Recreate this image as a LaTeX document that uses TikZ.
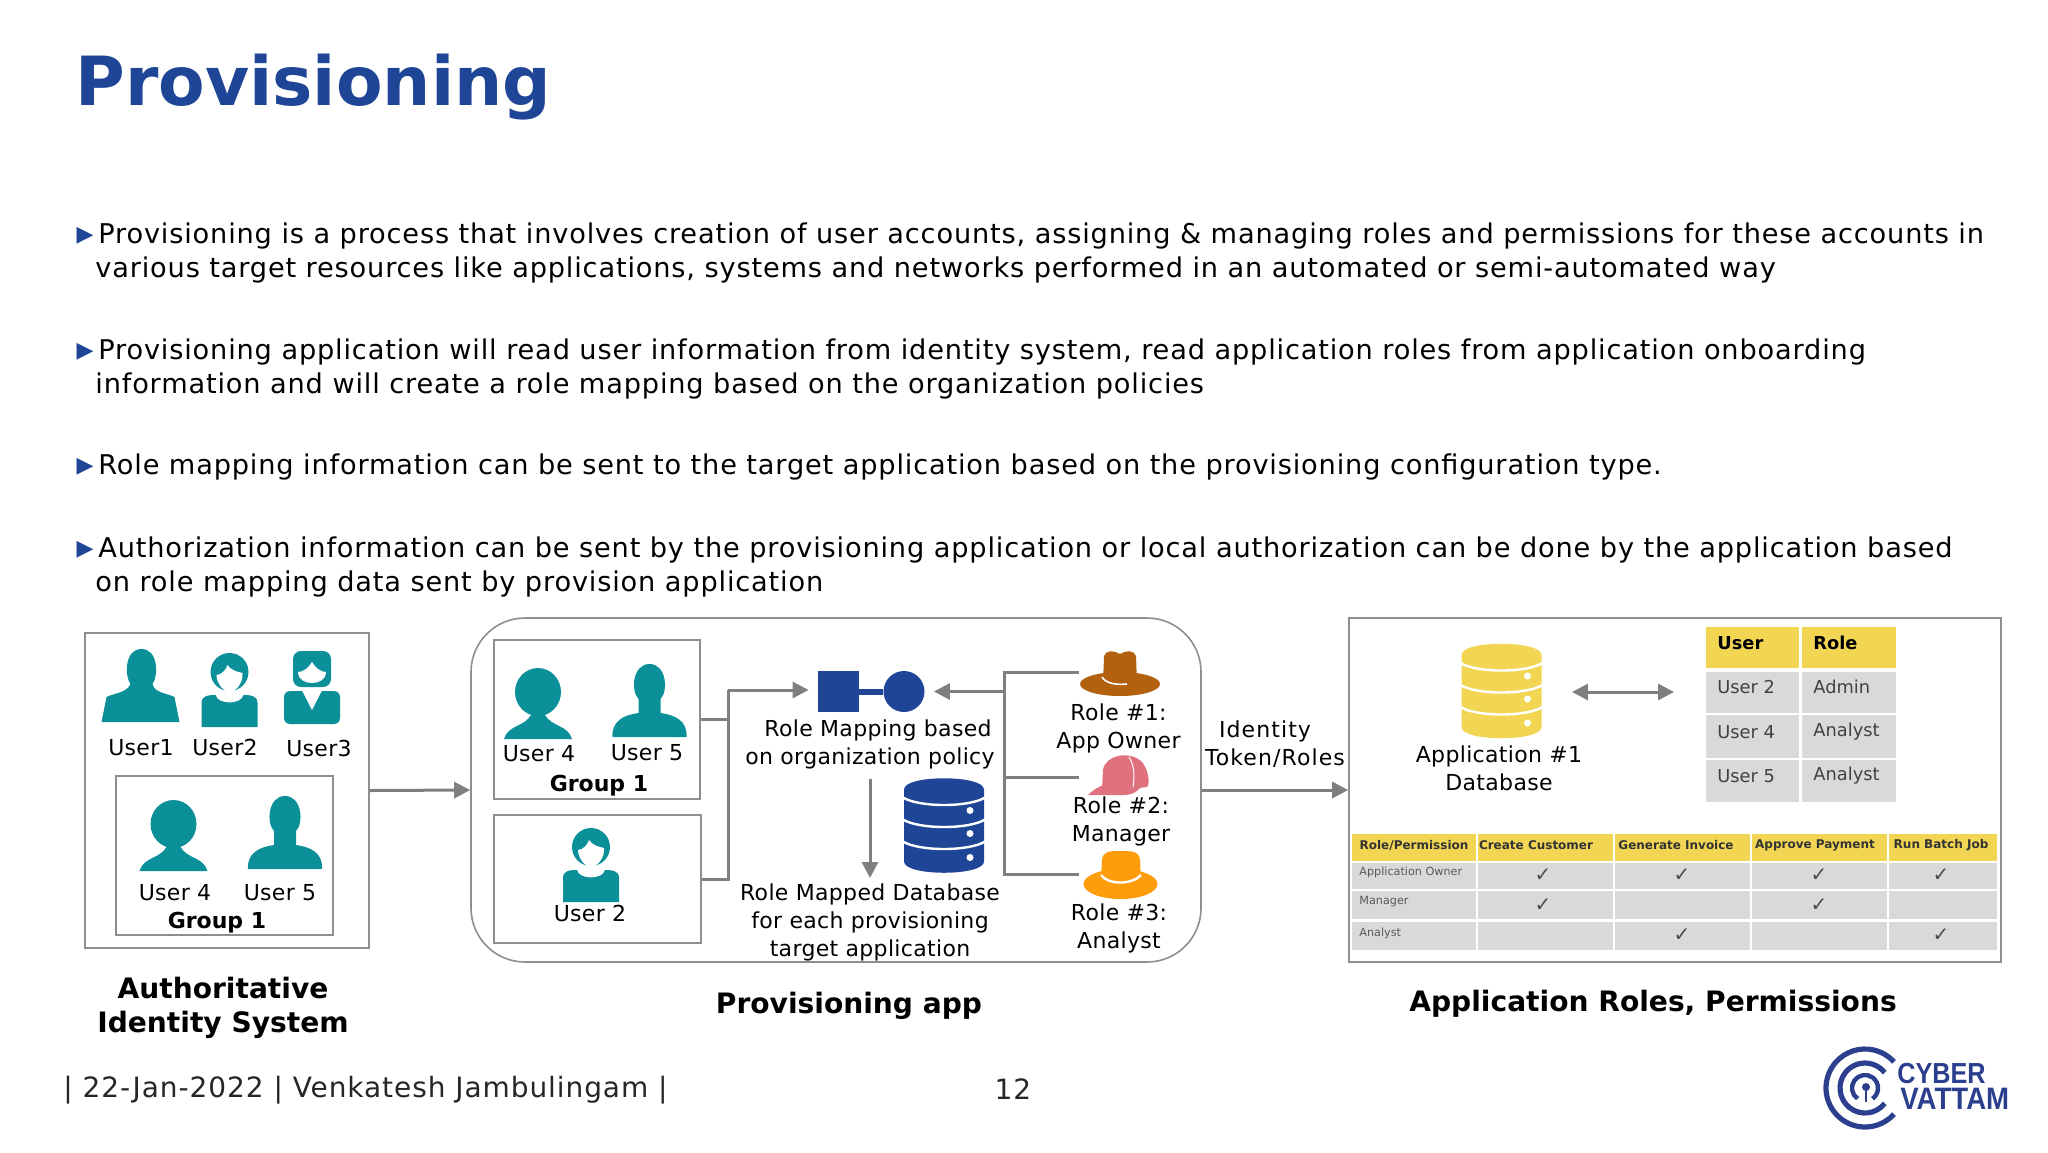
\documentclass[tikz,border=0pt]{standalone}
\usepackage{fontspec}
\setmainfont{DejaVu Sans}
\newfontfamily\logofont{Liberation Sans}
\usetikzlibrary{arrows.meta,shapes.geometric}
\definecolor{titleblue}{HTML}{1F4597}
\definecolor{iconteal}{HTML}{0B8F99}
\definecolor{linegray}{HTML}{7F7F7F}
\definecolor{boxgray}{HTML}{8E8E8E}
\definecolor{tabyellow}{HTML}{F2D653}
\definecolor{tabgray}{HTML}{D9D9DB}
\definecolor{hatbrown}{HTML}{B3600F}
\definecolor{hatpink}{HTML}{E0717F}
\definecolor{hatorange}{HTML}{FF9C0A}
\definecolor{logoblue}{HTML}{2C3F8E}
\tikzset{
  flow/.style={draw=linegray, line width=1.5pt},
  plainbox/.style={draw=boxgray, line width=0.8pt, inner sep=0pt},
  label/.style={font=\fontsize{11}{14}\selectfont\addfontfeature{LetterSpace=1.5}, align=center, inner sep=0pt},
  labelb/.style={font=\fontsize{11}{14}\selectfont\bfseries, inner sep=0pt},
  caption/.style={font=\fontsize{14.05}{17}\selectfont\bfseries, align=center, inner sep=0pt},
  bodytext/.style={font=\fontsize{13.6}{17}\selectfont\addfontfeature{LetterSpace=3.05}, align=left, anchor=west, inner sep=0pt},
  bullet/.style={font=\fontsize{11}{11}\selectfont, text=titleblue, inner sep=0pt},
  footertext/.style={font=\fontsize{14}{16}\selectfont\addfontfeature{LetterSpace=3.3}, text=black!85, inner sep=0pt},
  tablecell/.style={font=\fontsize{8.9}{10}\selectfont, text=black!75, anchor=west, inner sep=0pt},
  tablehead/.style={font=\fontsize{8.9}{10}\selectfont\bfseries, anchor=west, inner sep=0pt},
  permhead/.style={font=\fontsize{6}{7}\selectfont\bfseries, text=black!80, inner sep=0pt},
  permcell/.style={font=\fontsize{5.6}{7}\selectfont, text=black!65, anchor=west, inner sep=0pt},
  permtick/.style={font=\fontsize{10}{10}\selectfont, text=black!70, inner sep=0pt},
  % Personen, Ursprung unten in der Mitte
  pics/manicon/.style={code={
    \fill[iconteal] (-39,0) -- (-34,-25) .. controls (-26,-29) and (-14,-29) .. (-10,-38) .. controls (-16,-46) and (-16,-73) .. (1,-73) .. controls (18,-73) and (18,-46) .. (12,-38) .. controls (14,-29) and (26,-29) .. (34,-25) -- (39,0) -- cycle;
  }},
  pics/manround/.style={code={
    \fill[iconteal] (-37,0) .. controls (-38,-16) and (-26,-22) .. (-11,-24) -- (-11,-38) .. controls (-19,-46) and (-17,-73) .. (0,-73) .. controls (17,-73) and (19,-46) .. (11,-38) -- (11,-24) .. controls (26,-22) and (38,-16) .. (37,0) -- cycle;
  }},
  pics/womanicon/.style={code={
    \fill[iconteal] (-34,0) .. controls (-30,-14) and (-14,-12) .. (-7,-24) -- (7,-24) .. controls (14,-12) and (30,-14) .. (34,0) -- cycle;
    \fill[iconteal] (0,-47) ellipse (23 and 24);
  }},
  pics/girlicon/.style={code={
    \fill[iconteal] (-28,0) -- (-28,-24) .. controls (-28,-32) and (-20,-32) .. (-14,-32) .. controls (-12,-22) and (12,-22) .. (14,-32) .. controls (20,-32) and (28,-32) .. (28,-24) -- (28,0) -- cycle;
    \fill[iconteal] (0,-55) circle (19);
    \fill[white] (-13,-52) .. controls (-8,-52) and (-3,-58) .. (-2,-62) .. controls (1,-57) and (8,-55) .. (13,-54) .. controls (14,-44) and (6,-35) .. (0,-35) .. controls (-6,-35) and (-13,-44) .. (-13,-52) -- cycle;
  }},
  pics/ladyicon/.style={code={
    \fill[iconteal, rounded corners=4pt] (-19,-37) rectangle (19,-73);
    \fill[white] (-14,-52) .. controls (-8,-52) and (-3,-57) .. (0,-62) .. controls (3,-57) and (8,-52) .. (14,-52) .. controls (14,-44) and (6,-41) .. (0,-41) .. controls (-6,-41) and (-14,-44) .. (-14,-52) -- cycle;
    \fill[iconteal, rounded corners=3pt] (-28,0) rectangle (28,-33);
    \fill[white] (-10,-33.5) -- (0,-14) -- (10,-33.5) -- cycle;
  }},
  % Datenbank, Ursprung in der Mitte
  pics/dbicon/.style={code={
    \path[pic actions] (-40,-36) .. controls (-40,-51) and (40,-51) .. (40,-36) -- (40,36) .. controls (40,51) and (-40,51) .. (-40,36) -- cycle;
    \draw[white, line width=1.2pt] (-41,-28) .. controls (-25,-18) and (25,-18) .. (41,-28);
    \draw[white, line width=1.2pt] (-41,-6) .. controls (-25,4) and (25,4) .. (41,-6);
    \draw[white, line width=1.2pt] (-41,16) .. controls (-25,26) and (25,26) .. (41,16);
    \fill[white] (26,-15) circle (3.5);
    \fill[white] (26,8) circle (3.5);
    \fill[white] (26,32) circle (3.5);
  }}
}
\begin{document}
\begin{tikzpicture}[x=0.5pt, y=-0.5pt, >={Triangle[length=8pt,width=8pt]}]
\useasboundingbox (0,0) rectangle (2048,1152);
% Titel
\node[font=\fontsize{33.9}{40}\selectfont\bfseries, text=titleblue, anchor=base west, inner sep=0pt] (title) at (75,105) {Provisioning};
% Text
\node[bullet] (b1) at (85,236) {▶};
\node[bodytext] (p1) at (95,253) {\hspace*{1.5pt}Provisioning is a process that involves creation of user accounts, assigning \& managing roles and permissions for these accounts in\\various target resources like applications, systems and networks performed in an automated or semi-automated way};
\node[bullet] (b2) at (85,352) {▶};
\node[bodytext] (p2) at (95,369) {\hspace*{1.5pt}Provisioning application will read user information from identity system, read application roles from application onboarding\\information and will create a role mapping based on the organization policies};
\node[bullet] (b3) at (85,467) {▶};
\node[bodytext] (p3) at (98,467) {Role mapping information can be sent to the target application based on the provisioning configuration type.};
\node[bullet] (b4) at (85,550) {▶};
\node[bodytext] (p4) at (95,567) {\hspace*{1.5pt}Authorization information can be sent by the provisioning application or local authorization can be done by the application based\\on role mapping data sent by provision application};
% Boxen
\node[plainbox, minimum width=142pt, minimum height=157.5pt] (authbox) at (227,790.5) {};
\node[plainbox, minimum width=108.5pt, minimum height=79.5pt] (authgroup) at (224.5,855.5) {};
\node[plainbox, rounded corners=27pt, minimum width=365pt, minimum height=172pt] (provbox) at (836,790) {};
\node[plainbox, minimum width=103pt, minimum height=79.5pt] (provgroup) at (597,719.5) {};
\node[plainbox, minimum width=103.5pt, minimum height=64pt] (provuser) at (597.5,879) {};
\node[plainbox, minimum width=326pt, minimum height=172pt] (appbox) at (1675,790) {};
% Personen links
\pic at (140.5,722) {manicon};
\pic at (229.5,727) {girlicon};
\pic at (312,724) {ladyicon};
\pic at (173.5,871) {womanicon};
\pic at (285,869) {manround};
\node[label] (user1) at (141,748) {User1};
\node[label] (user2) at (225,747) {User2};
\node[label] (user3) at (319,748) {User3};
\node[label] (user4a) at (175,893) {User 4};
\node[label] (user5a) at (280,893) {User 5};
\node[labelb] (group1a) at (217,923) {Group 1};
% Personen in der Mitte
\pic at (538,739) {womanicon};
\pic at (649.5,737) {manround};
\pic at (591,902) {girlicon};
\node[label] (user4b) at (539,754) {User 4};
\node[label] (user5b) at (647,753) {User 5};
\node[labelb] (group1b) at (599,786) {Group 1};
\node[label] (user2b) at (590,913) {User 2};
% Role Mapping
\node[fill=titleblue, minimum size=20.5pt, inner sep=0pt] (mapsquare) at (838.5,691.5) {};
\node[circle, fill=titleblue, minimum size=20.5pt, inner sep=0pt] (mapcircle) at (904,691.5) {};
\draw[titleblue, line width=3pt] (mapsquare) -- (mapcircle);
\node[label] (maptext) at (870,744) {\hspace*{8pt}Role Mapping based\\on organization policy};
\pic[fill=titleblue] at (944,825.5) {dbicon};
\node[label] (mappedtext) at (870,922.5) {Role Mapped Database\\for each provisioning\\target application};
% Huete
\fill[hatbrown] (1120,684) ellipse (40 and 12);
\fill[hatbrown] (1103,684) -- (1104,656) .. controls (1106,650) and (1114,650) .. (1120,654) .. controls (1126,650) and (1134,650) .. (1136,656) -- (1137,684) -- cycle;
\draw[white, line width=0.8pt] (1102,677) .. controls (1106,684) and (1118,685) .. (1127,684);
\fill[hatpink] (1102,788) -- (1103,770) .. controls (1105,755) and (1130,750) .. (1142,762) .. controls (1149,770) and (1150,785) .. (1147,787) -- (1122,790) -- cycle;
\fill[hatpink] (1088,795) .. controls (1094,789) and (1100,786) .. (1104,785) -- (1140,788) .. controls (1136,793) and (1130,795) .. (1124,795) -- cycle;
\draw[white, line width=0.5pt] (1129,757) .. controls (1134,765) and (1135,775) .. (1133,787);
\fill[hatorange] (1120.5,884) ellipse (37 and 15);
\fill[hatorange] (1101,880) -- (1102,860) .. controls (1103,851) and (1110,851) .. (1120,851) .. controls (1132,851) and (1139,851) .. (1140,860) -- (1141,880) -- cycle;
\draw[white, line width=1.2pt] (1101,875) .. controls (1108,885) and (1132,885) .. (1141,875);
\node[label] (role1) at (1118.5,728) {Role \#1:\\App Owner};
\node[label] (role2) at (1121,821) {Role \#2:\\Manager};
\node[label] (role3) at (1119,928) {Role \#3:\\Analyst};
% Verbindungen
\coordinate (J1) at (728,690);
\coordinate (B0) at (1004,691.5);
\coordinate (B1) at (1004,672);
\coordinate (B2) at (1004,777);
\coordinate (B3) at (1004,874);
\coordinate (H1) at (1079,672);
\coordinate (H2) at (1079,777);
\coordinate (H3) at (1079,874);
\coordinate (D1) at (870,779);
\coordinate (D2) at (870,878);
\draw[flow, ->] (authbox.east) -- (provbox.west);
\draw[flow] (provuser.east) -| (J1);
\draw[flow] (provgroup.east) -| (J1);
\draw[flow, ->, shorten >=4.5pt] (J1) -- (J1 -| mapsquare.west);
\draw[flow] (H1) -- (B1) -- (B3) -- (H3);
\draw[flow] (B2) -- (H2);
\draw[flow, ->, shorten >=4.5pt] (B0) -- (mapcircle.east);
\draw[flow, ->] (D1) -- (D2);
\draw[flow, ->] (provbox.east) -- (appbox.west);
\node[label, font=\fontsize{11}{14}\selectfont\addfontfeature{LetterSpace=5}] (tokentext) at (1275,744) {Identity\hspace*{10pt}\\Token/Roles};
% Anwendung
\pic[fill=tabyellow] at (1501.5,691) {dbicon};
\node[label] (dbtext) at (1499,768.5) {Application \#1\\Database};
\coordinate (A1) at (1572,692);
\coordinate (A2) at (1674,692);
\draw[flow, <->] (A1) -- (A2);
% Tabelle User/Role
\fill[tabyellow] (1706,627) rectangle (1799,668);
\fill[tabyellow] (1802,627) rectangle (1896,668);
\fill[tabgray] (1706,672) rectangle (1799,713);
\fill[tabgray] (1802,672) rectangle (1896,713);
\fill[tabgray] (1706,715) rectangle (1799,758);
\fill[tabgray] (1802,715) rectangle (1896,758);
\fill[tabgray] (1706,760) rectangle (1799,802);
\fill[tabgray] (1802,760) rectangle (1896,802);
\node[tablehead] (headuser) at (1717,643) {User};
\node[tablehead] (headrole) at (1813,643) {Role};
\node[tablecell] (cellu1) at (1717,687) {User 2};
\node[tablecell] (cellr1) at (1813,687) {Admin};
\node[tablecell] (cellu2) at (1717,732) {User 4};
\node[tablecell] (cellr2) at (1813,732) {Analyst};
\node[tablecell] (cellu3) at (1717,776) {User 5};
\node[tablecell] (cellr3) at (1813,776) {Analyst};
% Tabelle Role/Permission
\fill[tabyellow] (1352,834) rectangle (1997,861);
\fill[tabgray] (1352,863) rectangle (1997,889);
\fill[tabgray] (1352,891) rectangle (1997,919);
\fill[tabgray] (1352,922) rectangle (1997,950);
\draw[white, line width=0.6pt] (1477,834) -- (1477,950);
\draw[white, line width=0.6pt] (1614,834) -- (1614,950);
\draw[white, line width=0.6pt] (1751,834) -- (1751,950);
\draw[white, line width=0.6pt] (1888,834) -- (1888,950);
\node[permhead] (permh0) at (1414,845) {Role/Permission};
\node[permhead] (permh1) at (1536,845) {Create Customer};
\node[permhead] (permh2) at (1676,845) {Generate Invoice};
\node[permhead] (permh3) at (1815,845) {Approve Payment};
\node[permhead] (permh4) at (1941,845) {Run Batch Job};
\node[permcell] (permr1) at (1359,872) {Application Owner};
\node[permcell] (permr2) at (1359,902) {Manager};
\node[permcell] (permr3) at (1359,933) {Analyst};
\node[permtick] (tick11) at (1543,875) {✓};
\node[permtick] (tick12) at (1682,875) {✓};
\node[permtick] (tick13) at (1819,875) {✓};
\node[permtick] (tick14) at (1941,875) {✓};
\node[permtick] (tick21) at (1543,905) {✓};
\node[permtick] (tick23) at (1819,905) {✓};
\node[permtick] (tick32) at (1682,935) {✓};
\node[permtick] (tick34) at (1941,935) {✓};
% Unterschriften
\node[caption] (capauth) at (223,1008) {Authoritative\\Identity System};
\node[caption] (capprov) at (849,1006) {Provisioning app};
\node[caption] (capapp) at (1653,1004) {Application Roles, Permissions};
% Fusszeile
\node[footertext, anchor=west] (footer) at (63,1090) {| 22-Jan-2022 | Venkatesh Jambulingam |};
\node[footertext] (pageno) at (1013,1089) {12};
% Logo
\coordinate (L) at (1865,1088);
\draw[logoblue, line width=2.6pt] (L) ++(42:39) arc (42:318:39);
\draw[logoblue, line width=2.6pt] (L) ++(38:25) arc (38:322:25);
\draw[logoblue, line width=2.2pt] (L) ++(125:13) arc (125:415:13);
\fill[logoblue] (1866,1087) circle (4);
\draw[logoblue, line width=1.4pt] (1866,1087) -- (1866,1102);
\node[font=\logofont\bfseries\fontsize{14.5}{16}\selectfont, text=logoblue, anchor=west, inner sep=0pt, xscale=0.87] (logotop) at (1897,1073) {CYBER};
\node[font=\logofont\bfseries\fontsize{15.5}{16}\selectfont, text=logoblue, anchor=west, inner sep=0pt, xscale=0.89] (logobottom) at (1900,1099) {VATTAM};
\end{tikzpicture}
\end{document}
